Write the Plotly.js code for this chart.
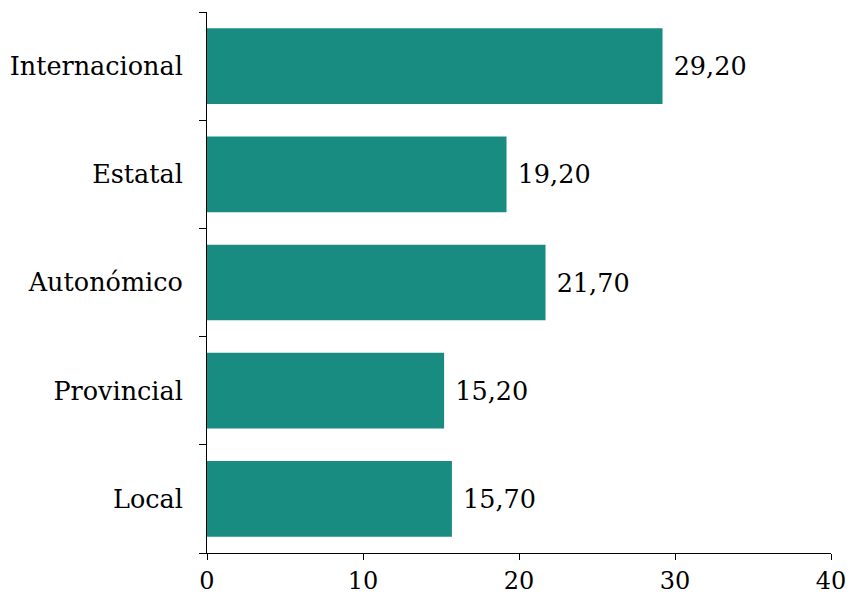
<!DOCTYPE html>
<html><head><meta charset="utf-8">
<script src="https://cdn.plot.ly/plotly-3.0.1.min.js"></script>
<style>html,body{margin:0;padding:0;background:#fff}#chart{width:850px;height:594px}</style>
</head><body><div id="chart"></div>
<script>
const categories = ["Local", "Provincial", "Autonómico", "Estatal", "Internacional"];
const values = [15.7, 15.2, 21.7, 19.2, 29.2];
const xTicks = [0, 10, 20, 30, 40];

const font = {family: "DejaVu Serif", size: 24, color: "#000"};
const yFont = {family: "DejaVu Serif", size: 25.5, color: "#000"};
const valFont = {family: "DejaVu Serif", size: 25.5, color: "#000"};
Plotly.newPlot("chart", [{
  type: "bar", orientation: "h",
  y: categories, x: values,
  marker: {color: "#188c80"},
  texttemplate: " %{x:.2f}", textposition: "outside",
  textfont: valFont, cliponaxis: false,
  hoverinfo: "none"
}], {
  width: 850, height: 594,
  margin: {l: 207, r: 19, t: 12, b: 41},
  separators: ",.",
  bargap: 0.3,
  font: font,
  showlegend: false,
  plot_bgcolor: "#fff", paper_bgcolor: "#fff",
  xaxis: {range: [0, 40], tickvals: xTicks, ticks: "outside", ticklen: 6, tickcolor: "#000",
    showline: true, linecolor: "#000", linewidth: 1, showgrid: false, zeroline: false,
    tickfont: font, fixedrange: true},
  yaxis: {type: "category", categoryorder: "array", categoryarray: categories,
    ticks: "outside", tickson: "boundaries", ticklen: 7, tickcolor: "#000",
    showline: true, linecolor: "#000", linewidth: 1, showgrid: false, zeroline: false,
    tickfont: yFont, ticklabelstandoff: 18, fixedrange: true}
}, {displayModeBar: false, staticPlot: true});
</script></body></html>
